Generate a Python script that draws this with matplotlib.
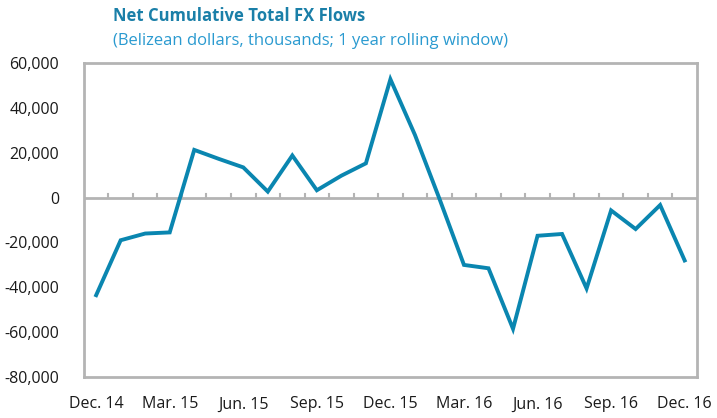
import numpy as np
import matplotlib.pyplot as plt

plt.rcParams['font.family'] = ['Open Sans', 'DejaVu Sans']

meses = ['Dec. 14', 'Jan. 15', 'Feb. 15', 'Mar. 15', 'Apr. 15', 'May. 15', 'Jun. 15',
         'Jul. 15', 'Aug. 15', 'Sep. 15', 'Oct. 15', 'Nov. 15', 'Dec. 15',
         'Jan. 16', 'Feb. 16', 'Mar. 16', 'Apr. 16', 'May. 16', 'Jun. 16',
         'Jul. 16', 'Aug. 16', 'Sep. 16', 'Oct. 16', 'Nov. 16', 'Dec. 16']
fluxos = [-43500, -19000, -16000, -15500, 21300, 17300, 13500, 2700, 18800, 3300,
          9800, 15300, 52800, 28000, -500, -30000, -31500, -58500, -17000, -16200,
          -40500, -5700, -14000, -3300, -28000]

color_linia = '#0A86B0'
color_eix = '#B4B4B4'

fig = plt.figure(figsize=(7.17, 4.18), dpi=100)
ax = fig.add_axes([0.117, 0.098, 0.855, 0.751])

x = np.arange(len(fluxos))
ax.plot(x, fluxos, color=color_linia, linewidth=2.8, solid_joinstyle='miter')

ax.set_xlim(-0.5, len(fluxos) - 0.5)
ax.set_ylim(-80000, 60000)
ax.set_yticks(np.arange(-80000, 60001, 20000))
ax.yaxis.set_major_formatter(plt.FuncFormatter(lambda v, p: f'{int(v):,}'))
ax.tick_params(axis='y', length=0, pad=18, labelsize=11.5, colors='#1a1a1a')

ax.set_xticks(x[::3])
ax.set_xticklabels(meses[::3])
ax.tick_params(axis='x', length=0, pad=14, labelsize=11.5, colors='#1a1a1a')

# zero line with small upward ticks at category boundaries
ax.axhline(0, color=color_eix, lw=2, zorder=1)
for b in np.arange(0.5, len(fluxos) - 1, 1):
    ax.plot([b, b], [0, 1500], color=color_eix, lw=1.5, zorder=1)

for s in ax.spines.values():
    s.set_color(color_eix)
    s.set_linewidth(2)

fig.text(0.158, 0.962, 'Net Cumulative Total FX Flows', fontsize=12, fontweight='bold',
         color='#1A7FA8', ha='left', va='center')
fig.text(0.158, 0.902, '(Belizean dollars, thousands; 1 year rolling window)', fontsize=12,
         color='#2A9AD0', ha='left', va='center')

plt.savefig('out.png', dpi=100)
